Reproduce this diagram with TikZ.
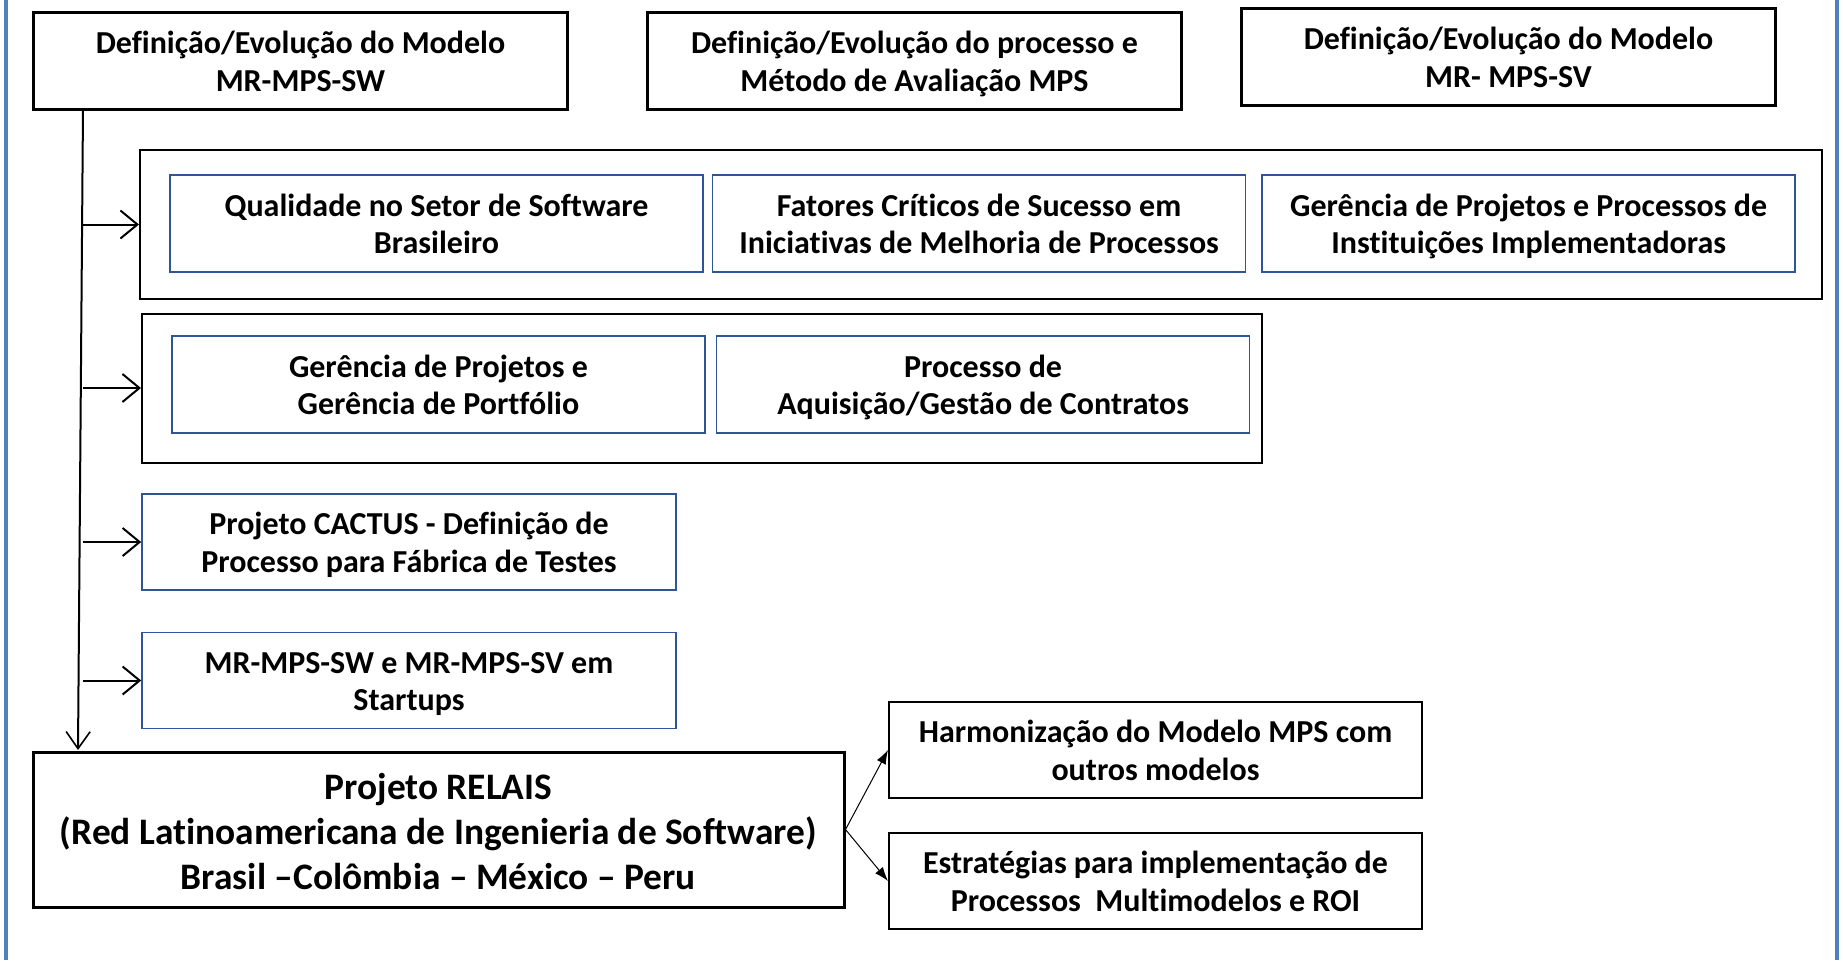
\documentclass[tikz,border=0pt]{standalone}
\usepackage{fontspec}
\setmainfont{Carlito}[Ligatures=NoCommon]
\usetikzlibrary{positioning,arrows.meta}
\definecolor{boxblue}{RGB}{47,85,151}
\definecolor{frameblue}{RGB}{79,129,189}
\begin{document}
\begin{tikzpicture}[x=0.5pt,y=-0.5pt,font=\fontsize{16}{18.8}\selectfont\bfseries,
	text box/.style={align=center,inner sep=0pt,text height=34.2pt,text depth=4pt},
	top node/.style={draw,line width=1.5pt,minimum width=267pt,minimum height=48.5pt,text box},
	group node/.style={draw,line width=1pt,minimum height=74.5pt,inner sep=0pt},
	inner node/.style={draw=boxblue,line width=0.8pt,minimum width=266.5pt,minimum height=48.5pt,text box},
	side node/.style={draw,line width=1pt,minimum width=266.5pt,minimum height=48pt,text box},
	open arrow/.style={line width=1pt,-{Straight Barb[length=8.5pt,width=14pt,line width=1pt]}},
	fill arrow/.style={line width=0.5pt,-{Latex[length=7pt,width=5pt]}}]
	
	\useasboundingbox (0,0) rectangle (1843,960);
	\draw[frameblue,line width=2pt] (6,0) -- (6,960) (1837,0) -- (1837,960);
	
	% top row
	\node[top node] (sw) at (300.5,61) {Definição/Evolução do Modelo\\MR-MPS-SW};
	\node[top node] (aval) at (914.5,61) {Definição/Evolução do processo e\\Método de Avaliação MPS};
	\node[top node] (sv) at (1508.5,57) {Definição/Evolução do Modelo\\MR- MPS-SV};
	
	% first group
	\node[group node,minimum width=841pt] (grpA) at (981,224.5) {};
	\node[inner node] (qual) at (436.5,223.5) {Qualidade no Setor de Software\\Brasileiro};
	\node[inner node] (fcs) [right=4pt of qual] {Fatores Críticos de Sucesso em\\Iniciativas de Melhoria de Processos};
	\node[inner node] (inst) [right=7.5pt of fcs] {Gerência de Projetos e Processos de\\Instituições Implementadoras};
	
	% second group
	\node[group node,minimum width=560pt] (grpB) at (702,388) {};
	\node[inner node] (port) at (438.5,384.5) {Gerência de Projetos e\\Gerência de Portfólio};
	\node[inner node] (aquis) [right=5pt of port] {Processo de\\Aquisição/Gestão de Contratos};
	
	\node[inner node,minimum width=267pt,minimum height=48pt] (cactus) at (409,542) {Projeto CACTUS - Definição de\\Processo para Fábrica de Testes};
	\node[inner node,minimum width=267pt,minimum height=48pt] (startup) at (409,680.5) {MR-MPS-SW e MR-MPS-SV em\\Startups};
	
	\node[draw,line width=1.5pt,minimum width=405.5pt,minimum height=77.5pt,align=center,inner sep=0pt,
		font=\fontsize{18.7}{22.6}\selectfont\bfseries,text height=65.3pt,text depth=5pt] (relais) at (438.5,829.5)
		{Projeto RELAIS\\(Red Latinoamericana de Ingenieria de Software)\\Brasil –Colômbia – México – Peru};
	
	\node[side node] (harm) at (1155.5,750) {Harmonização do Modelo MPS com\\outros modelos};
	\node[side node] (estr) [below=16.5pt of harm] {Estratégias para implementação de\\Processos\ \ Multimodelos e ROI};
	
	% connectors
	\coordinate (vtop) at (83,109);
	\coordinate (vend) at (78,750);
	\draw[line width=1pt,-{Straight Barb[length=8.5pt,width=12pt,line width=0.8pt]}] (vtop) -- (vend);
	\draw[open arrow] (grpA.west -| vtop) -- (grpA.west);
	\draw[open arrow] (grpB.west -| vtop) -- (grpB.west);
	\draw[open arrow] (cactus.west -| vtop) -- (cactus.west);
	\draw[open arrow] (startup.west -| vtop) -- (startup.west);
	\draw[fill arrow] (relais.east) -- (harm.west);
	\draw[fill arrow] (relais.east) -- (estr.west);
	
\end{tikzpicture}
\end{document}
